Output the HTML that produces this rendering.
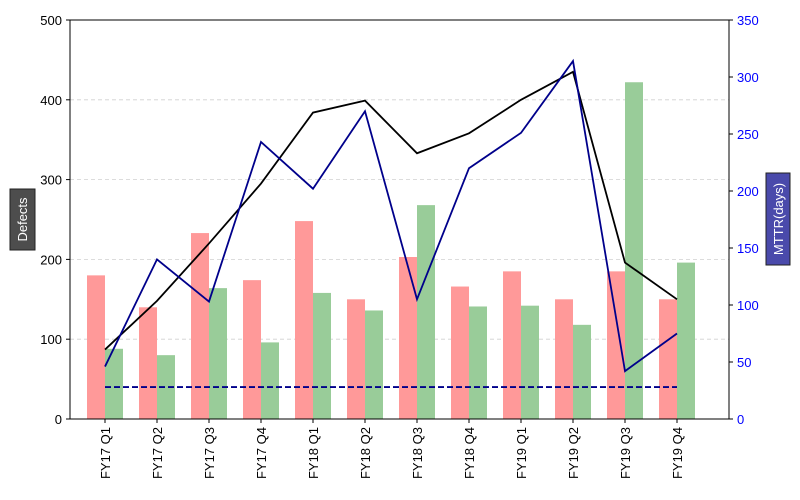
<!DOCTYPE html>
<html><head><meta charset="utf-8"><style>
body{margin:0;background:#fff;font-family:"Liberation Sans","DejaVu Sans",sans-serif}
svg{display:block}
</style></head><body>
<svg id="c" width="800" height="500"></svg>
<script>
const categories=["FY17 Q1","FY17 Q2","FY17 Q3","FY17 Q4","FY18 Q1","FY18 Q2","FY18 Q3","FY18 Q4","FY19 Q1","FY19 Q2","FY19 Q3","FY19 Q4"];
const defectsOpened=[180,140,233,174,248,150,203,166,185,150,185,150];
const defectsClosed=[88,80,164,96,158,136,268,141,142,118,422,196];
const backlog=[87,148,220,295,384,399,333,358,400,435,196,150];
const mttr=[46,140,103,243,202,270,105,220,251,314,42,75];
const mttrTarget=28;
const leftTicks=[0,100,200,300,400,500];
const rightTicks=[0,50,100,150,200,250,300,350];
const NS="http://www.w3.org/2000/svg";
const svg=document.getElementById('c');
const X0=70,X1=729,Y0=419,Y1=20;
const xs=i=>105+i*52;
const yl=v=>Y0-(v/500)*(Y0-Y1);
const yr=v=>Y0-(v/350)*(Y0-Y1);
function el(t,a,txt){const e=document.createElementNS(NS,t);for(const k in a)e.setAttribute(k,a[k]);if(txt!==undefined)e.textContent=txt;svg.appendChild(e);return e;}
leftTicks.forEach(v=>{
 const g=el('line',{x1:X0,x2:X1,y1:yl(v),y2:yl(v),stroke:'#d0d0d0','stroke-dasharray':'4,3','stroke-width':0.8});
 
 
 el('line',{x1:X0-4,x2:X0,y1:yl(v),y2:yl(v),stroke:'#000'});
 const t=el('text',{x:X0-8,y:yl(v)+5,'text-anchor':'end','font-size':13,fill:'#000'},v);
 
 
});
rightTicks.forEach(v=>{
 el('line',{x1:X1,x2:X1+4,y1:yr(v),y2:yr(v),stroke:'#000'});
 const t=el('text',{x:X1+8,y:yr(v)+5,'font-size':13,fill:'#0000ff'},v);
 
 
});
categories.forEach((c,i)=>{
 const r=el('rect',{x:xs(i)-18,y:yl(defectsOpened[i]),width:18,height:Y0-yl(defectsOpened[i]),fill:'#ff9999'});
 
 
 const g=el('rect',{x:xs(i),y:yl(defectsClosed[i]),width:18,height:Y0-yl(defectsClosed[i]),fill:'#99cc99'});
 
 
 el('line',{x1:xs(i),x2:xs(i),y1:Y0,y2:Y0+4,stroke:'#000'});
 const t=el('text',{transform:`translate(${xs(i)+5},${Y0+8}) rotate(-90)`,'text-anchor':'end','font-size':13,fill:'#000'},c);
 
 
});
const bl=el('polyline',{points:backlog.map((v,i)=>xs(i)+','+yl(v)).join(' '),fill:'none',stroke:'#000','stroke-width':1.8});


const ml=el('polyline',{points:mttr.map((v,i)=>xs(i)+','+yr(v)).join(' '),fill:'none',stroke:'#00008b','stroke-width':1.8});


const tl=el('line',{x1:xs(0),x2:xs(categories.length-1),y1:yr(mttrTarget),y2:yr(mttrTarget),stroke:'#00008b','stroke-width':1.8,'stroke-dasharray':'6,3'});


el('rect',{x:X0,y:Y1,width:X1-X0,height:Y0-Y1,fill:'none',stroke:'#000','stroke-width':1});
const lb=el('rect',{x:10,y:189,width:25,height:61,fill:'#4d4d4d',stroke:'#222'});


const lt=el('text',{transform:'translate(27,219.5) rotate(-90)','text-anchor':'middle','font-size':13,fill:'#fff'},'Defects');


const rb=el('rect',{x:766,y:173,width:24,height:92,fill:'#4a4aab',stroke:'#222'});


const rt=el('text',{transform:'translate(783,219) rotate(-90)','text-anchor':'middle','font-size':13,fill:'#fff'},'MTTR(days)');


</script>
</body></html>
